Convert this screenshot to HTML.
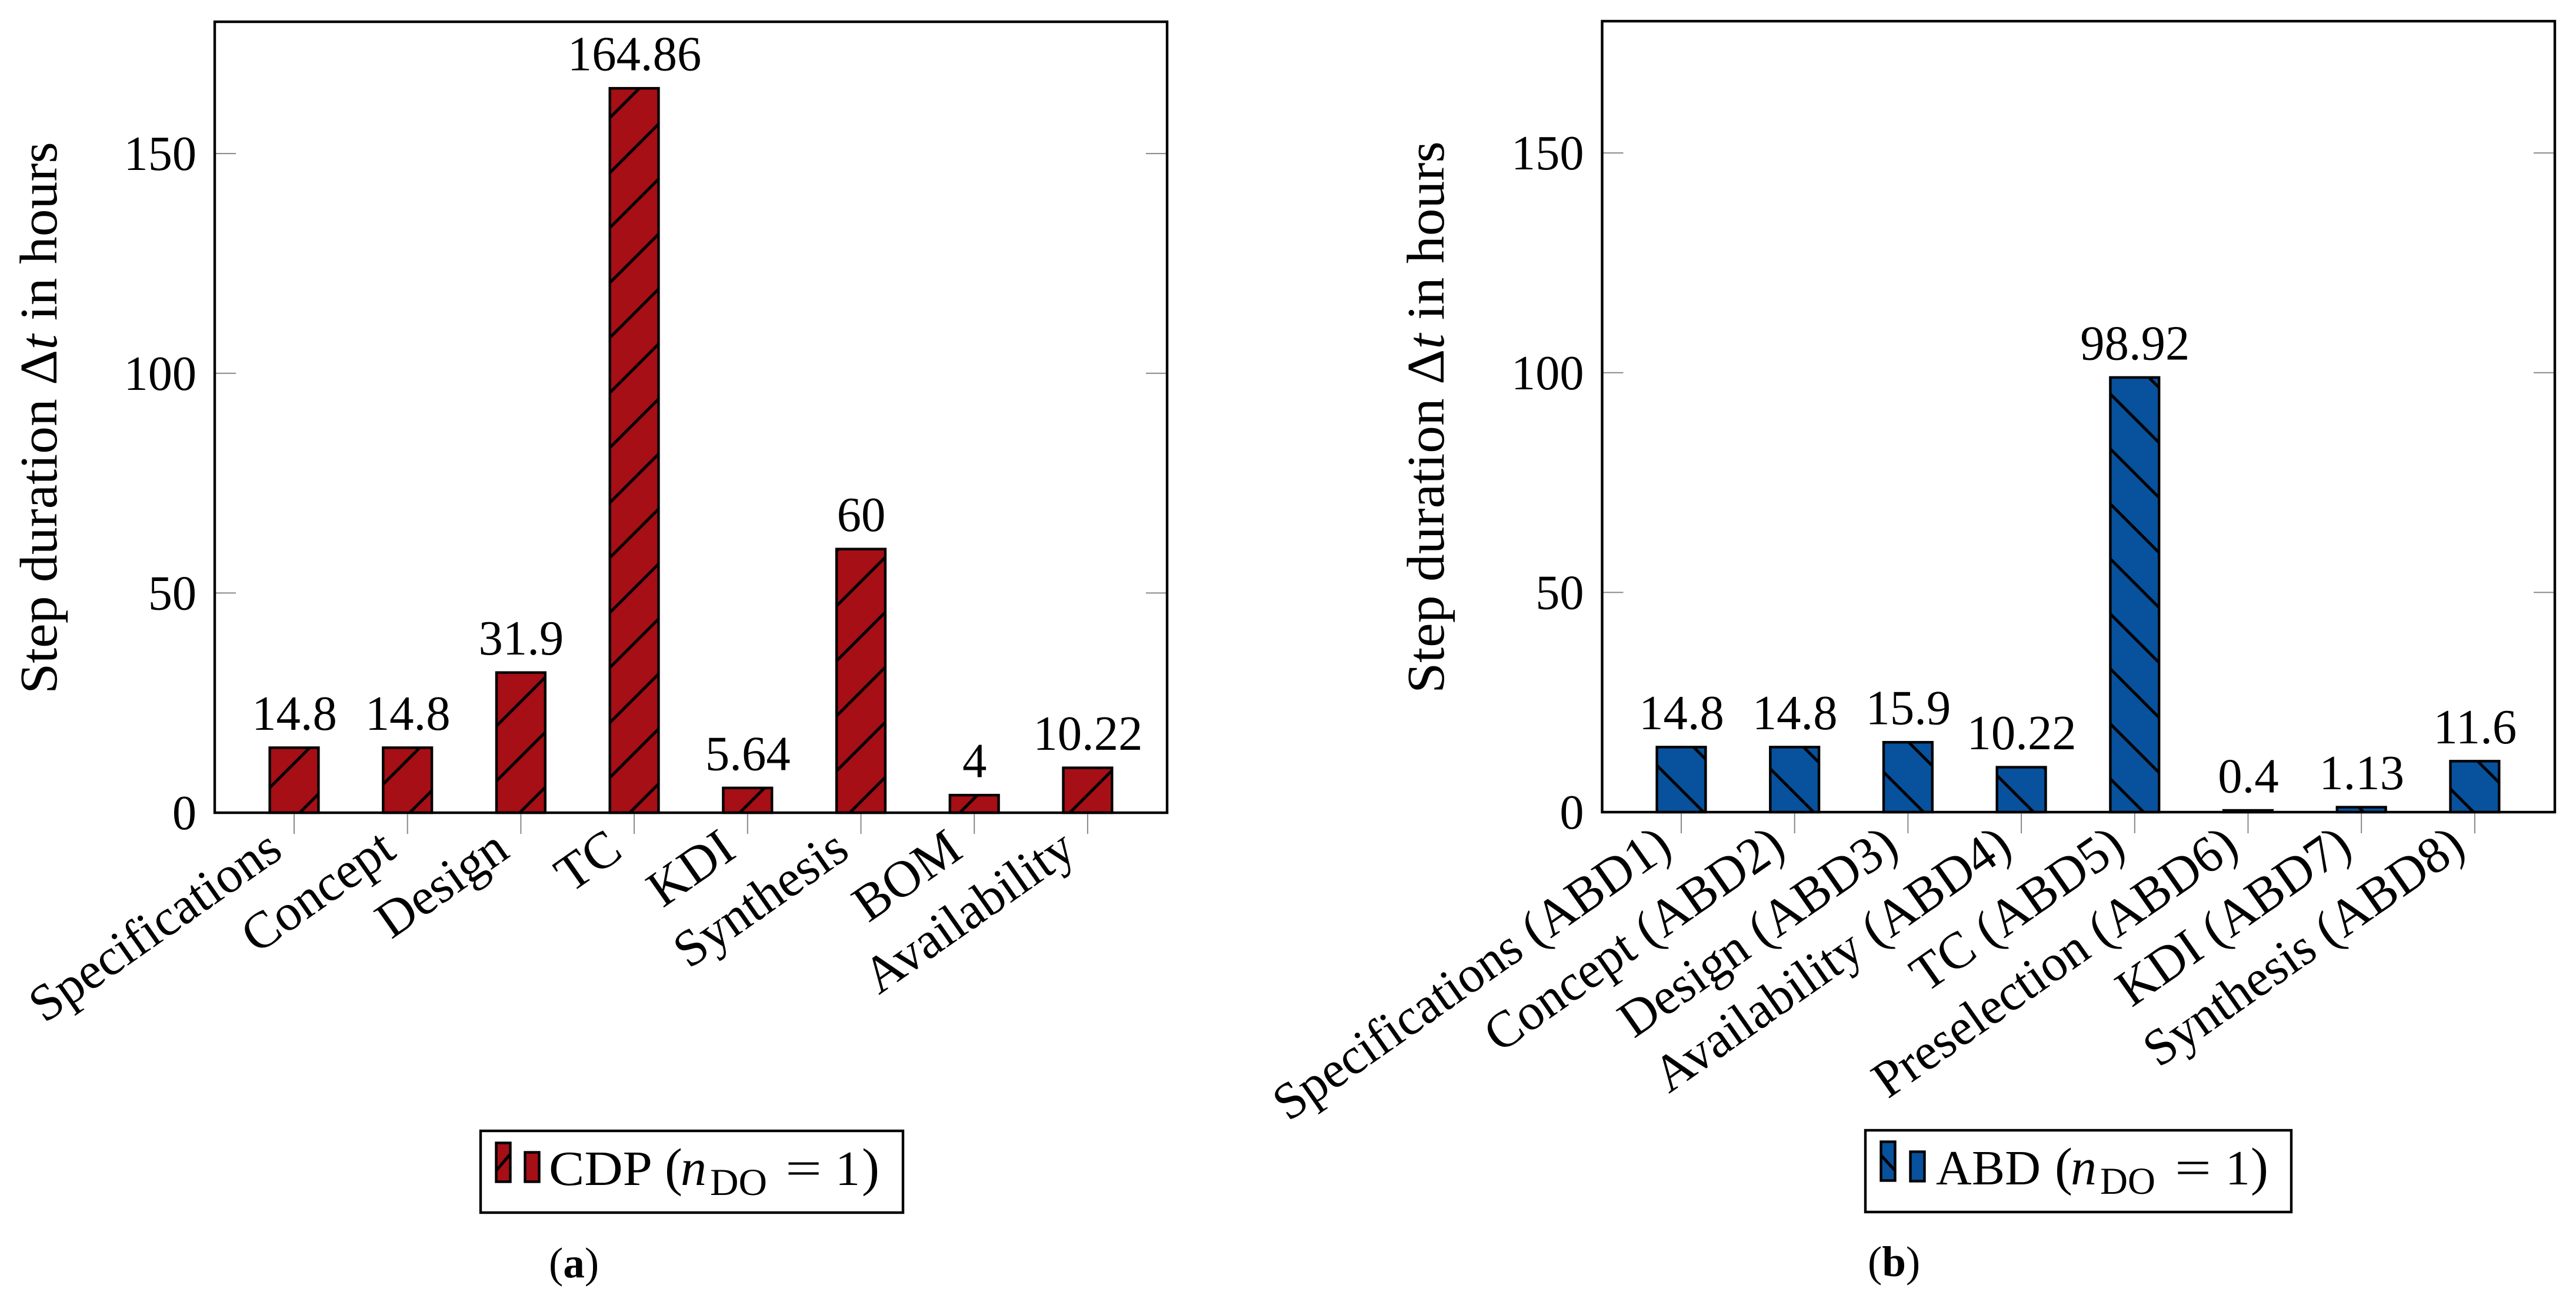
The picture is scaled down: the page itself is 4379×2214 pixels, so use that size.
<!DOCTYPE html>
<html lang="en">
<head>
<meta charset="utf-8">
<title>Step duration charts</title>
<style>
html,body{margin:0;padding:0;background:#fff;width:4379px;height:2214px;overflow:hidden}
svg{display:block}
text{font-family:"Liberation Serif","Noto Serif CJK SC",serif;fill:#000}
</style>
</head>
<body>
<svg id="figure" xmlns="http://www.w3.org/2000/svg" width="4379" height="2214" viewBox="0 0 4379 2214">
  <defs>
    <pattern id="hatch-ne" patternUnits="userSpaceOnUse" width="93.5" height="93.5" patternTransform="translate(21.5,0)">
      <path d="M-6,99.5 L99.5,-6 M-6,6 L6,-6 M87.5,99.5 L99.5,87.5" stroke="#000" stroke-width="5" fill="none"/>
    </pattern>
    <pattern id="hatch-nw" patternUnits="userSpaceOnUse" width="93.5" height="93.5" patternTransform="translate(19,0)">
      <path d="M-6,-6 L99.5,99.5 M87.5,-6 L99.5,6 M-6,87.5 L6,99.5" stroke="#000" stroke-width="5" fill="none"/>
    </pattern>
  </defs>
  <rect x="0" y="0" width="4379" height="2214" fill="#fff"/>

  <g id="chart-a"></g>
  <g id="chart-b"></g>

  <g>
    <rect x="817" y="1923" width="718" height="139" fill="#fff" stroke="#000" stroke-width="4.4"/>
    <rect x="843.5" y="1943.5" width="24" height="66" fill="#a50f15" stroke="#000" stroke-width="4.4"/>
    <line x1="844" y1="1990" x2="867" y2="1963" stroke="#000" stroke-width="5"/>
    <rect x="892.5" y="1959.5" width="24" height="50" fill="#a50f15" stroke="#000" stroke-width="4.4"/>
    <text x="933" y="2015" font-size="84" textLength="176" lengthAdjust="spacingAndGlyphs">CDP</text>
    <text x="1130" y="2015" font-size="90">(</text>
    <text x="1157" y="2015" font-size="88" font-style="italic">n</text>
    <text x="1207" y="2032" font-size="65" textLength="97" lengthAdjust="spacingAndGlyphs">DO</text>
    <text x="1335" y="2015" font-size="84" textLength="62" lengthAdjust="spacingAndGlyphs">=</text>
    <text x="1420" y="2015" font-size="84">1</text>
    <text x="1465" y="2015" font-size="90">)</text>
  </g>
  <text x="933" y="2172" font-size="73">(<tspan font-weight="bold">a</tspan>)</text>

  <g>
    <rect x="3171" y="1922" width="724" height="139" fill="#fff" stroke="#000" stroke-width="4.4"/>
    <rect x="3197.5" y="1941.5" width="24" height="66" fill="#08519c" stroke="#000" stroke-width="4.4"/>
    <line x1="3198" y1="1965" x2="3221" y2="1990" stroke="#000" stroke-width="5"/>
    <rect x="3247.5" y="1958.5" width="24" height="50" fill="#08519c" stroke="#000" stroke-width="4.4"/>
    <text x="3291" y="2014" font-size="84" textLength="178" lengthAdjust="spacingAndGlyphs">ABD</text>
    <text x="3493" y="2014" font-size="90">(</text>
    <text x="3520" y="2014" font-size="88" font-style="italic">n</text>
    <text x="3570" y="2030" font-size="65" textLength="94" lengthAdjust="spacingAndGlyphs">DO</text>
    <text x="3697" y="2014" font-size="84" textLength="62" lengthAdjust="spacingAndGlyphs">=</text>
    <text x="3783" y="2014" font-size="84">1</text>
    <text x="3826" y="2014" font-size="90">)</text>
  </g>
  <text x="3175" y="2170" font-size="73">(<tspan font-weight="bold">b</tspan>)</text>
</svg>

<script>
const categoriesA = ["Specifications","Concept","Design","TC","KDI","Synthesis","BOM","Availability"];
const valuesA = [14.8,14.8,31.9,164.86,5.64,60,4,10.22];
const categoriesB = ["Specifications (ABD1)","Concept (ABD2)","Design (ABD3)","Availability (ABD4)","TC (ABD5)","Preselection (ABD6)","KDI (ABD7)","Synthesis (ABD8)"];
const valuesB = [14.8,14.8,15.9,10.22,98.92,0.4,1.13,11.6];
const yTickValues = [0,50,100,150];
const yMax = 180;

const NS = "http://www.w3.org/2000/svg";

function place(el, x, y, rot, sx) {
  el.setAttribute("transform", "translate(" + x + "," + y + ") rotate(" + rot + ") scale(" + sx + ",1)");
}

function drawChart(host, cfg, categories, values) {
  const yScale = v => cfg.base - v * (cfg.base - cfg.top) / yMax;
  const xScale = i => cfg.x0 + i * cfg.step;

  // y ticks, both sides, inward
  yTickValues.forEach(t => {
    [[cfg.left, cfg.left + 36], [cfg.right, cfg.right - 36]].forEach(pair => {
      const tick = document.createElementNS(NS, "line");
      
      
      tick.setAttribute("x1", pair[0]);
      tick.setAttribute("x2", pair[1]);
      tick.setAttribute("y1", yScale(t));
      tick.setAttribute("y2", yScale(t));
      tick.setAttribute("stroke", "#888");
      tick.setAttribute("stroke-width", "2");
      host.appendChild(tick);
    });
    const lab = document.createElementNS(NS, "text");
    
    
    lab.setAttribute("font-size", "84");
    lab.setAttribute("text-anchor", "end");
    place(lab, cfg.left - 31, yScale(t) + 28, 0, 0.98);
    lab.textContent = String(t);
    host.appendChild(lab);
  });

  // y-axis title
  const title = document.createElementNS(NS, "text");
  
  
  title.setAttribute("font-size", "90");
  title.setAttribute("text-anchor", "middle");
  place(title, cfg.titleX, cfg.titleY, -90, 1.04);
  title.appendChild(document.createTextNode("Step duration \u0394"));
  const tvar = document.createElementNS(NS, "tspan");
  
  
  tvar.setAttribute("font-style", "italic");
  tvar.textContent = "t";
  title.appendChild(tvar);
  title.appendChild(document.createTextNode(" in hours"));
  host.appendChild(title);

  categories.forEach((cat, i) => {
    const cx = xScale(i);
    const top = yScale(values[i]);

    const fill = document.createElementNS(NS, "rect");
    
    
    fill.setAttribute("x", cx - cfg.barW / 2);
    fill.setAttribute("y", top);
    fill.setAttribute("width", cfg.barW);
    fill.setAttribute("height", cfg.base - top);
    fill.setAttribute("fill", cfg.color);
    host.appendChild(fill);

    const hatch = document.createElementNS(NS, "rect");
    
    
    hatch.setAttribute("x", cx - cfg.barW / 2);
    hatch.setAttribute("y", top);
    hatch.setAttribute("width", cfg.barW);
    hatch.setAttribute("height", cfg.base - top);
    hatch.setAttribute("fill", "url(#" + cfg.hatch + ")");
    hatch.setAttribute("stroke", "#000");
    hatch.setAttribute("stroke-width", "4.4");
    host.appendChild(hatch);

    const val = document.createElementNS(NS, "text");
    
    
    val.setAttribute("font-size", "84");
    val.setAttribute("text-anchor", "middle");
    place(val, cx + 0.5, top - 30.5, 0, 0.985);
    val.textContent = String(values[i]);
    host.appendChild(val);

    const tick = document.createElementNS(NS, "line");
    
    
    tick.setAttribute("x1", cx);
    tick.setAttribute("x2", cx);
    tick.setAttribute("y1", cfg.base);
    tick.setAttribute("y2", cfg.base + 36);
    tick.setAttribute("stroke", "#888");
    tick.setAttribute("stroke-width", "2");
    host.appendChild(tick);

    const lab = document.createElementNS(NS, "text");
    
    
    lab.setAttribute("font-size", "88");
    lab.setAttribute("text-anchor", "end");
    place(lab, cx + cfg.labelDx, cfg.base + cfg.labelDy, -35, cfg.labelScale);
    lab.textContent = cat;
    host.appendChild(lab);
  });

  const frame = document.createElementNS(NS, "rect");
  
  
  frame.setAttribute("x", cfg.left);
  frame.setAttribute("y", cfg.top);
  frame.setAttribute("width", cfg.right - cfg.left);
  frame.setAttribute("height", cfg.base - cfg.top);
  frame.setAttribute("fill", "none");
  frame.setAttribute("stroke", "#000");
  frame.setAttribute("stroke-width", "4.4");
  host.appendChild(frame);
}

drawChart(document.getElementById("chart-a"),
  {left:365, right:1984, top:37, base:1382, x0:500, step:192.7, barW:82.8, color:"#a50f15", hatch:"hatch-ne", titleX:96, titleY:710.5, labelDx:-16, labelDy:73, labelScale:1.0},
  categoriesA, valuesA);
drawChart(document.getElementById("chart-b"),
  {left:2723.5, right:4343, top:36, base:1381, x0:2858, step:192.7, barW:82.8, color:"#08519c", hatch:"hatch-nw", titleX:2454, titleY:709.5, labelDx:-12, labelDy:68, labelScale:0.99},
  categoriesB, valuesB);
</script>
</body>
</html>
